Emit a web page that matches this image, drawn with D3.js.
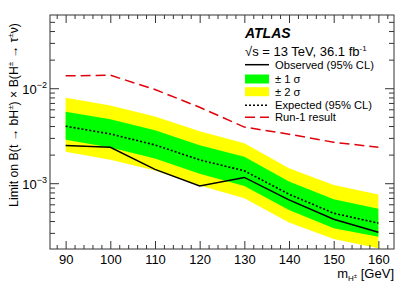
<!DOCTYPE html>
<html>
<head>
<meta charset="utf-8">
<script src="https://cdnjs.cloudflare.com/ajax/libs/d3/7.8.5/d3.min.js"></script>
<style>
  body { margin: 0; background: #fff; }
  svg { font-family: "Liberation Sans", Arial, sans-serif; }
</style>
</head>
<body>
<svg width="415" height="298"></svg>
<script>
var width = 415;
var height = 298;
var plotLeft = 50, plotRight = 394, plotTop = 15, plotBottom = 249;

// Charged Higgs masses [GeV]
var masses = [90, 100, 110, 120, 130, 140, 150, 160];
// Limits
var observed = [0.00249, 0.00239, 0.00140, 0.000937, 0.00115, 0.000667, 0.000418, 0.000305];
var expected = [0.00398, 0.00330, 0.00253, 0.00176, 0.00135, 0.000766, 0.000483, 0.000380];
var plus1 = [0.00567, 0.00471, 0.00360, 0.00251, 0.00190, 0.00104, 0.000679, 0.000540];
var minus1 = [0.00286, 0.00237, 0.00182, 0.00126, 0.000937, 0.000523, 0.000336, 0.000274];
var plus2 = [0.00796, 0.00659, 0.00505, 0.00352, 0.00264, 0.00144, 0.000960, 0.000759];
var minus2 = [0.00214, 0.00177, 0.00136, 0.000946, 0.000695, 0.000385, 0.000258, 0.000207];
var run1 = [0.0135, 0.0137, 0.0097, 0.0063, 0.0039, 0.00328, 0.0027, 0.00239];

var xMajor = [90, 100, 110, 120, 130, 140, 150, 160];

var svg = d3.select("svg");

var xScale = d3.scaleLinear()
               .domain([86.5, 163.5])
               .range([plotLeft, plotRight]);

var yScale = d3.scaleLog()
               .domain([2.03e-4, 0.059])
               .range([plotBottom, plotTop]);

svg.append("clipPath")
    .attr("id", "plot-clip")
  .append("rect")
    .attr("x", plotLeft)
    .attr("y", plotTop)
    .attr("width", plotRight - plotLeft)
    .attr("height", plotBottom - plotTop);

var plot = svg.append("g").attr("clip-path", "url(#plot-clip)");

// Bands
var band = (hi, lo) => d3.area()
    .x((d, i) => xScale(masses[i]))
    .y0((d, i) => yScale(lo[i]))
    .y1((d, i) => yScale(hi[i]));

plot.append("path")
    .datum(masses)
    .attr("d", band(plus2, minus2))
    .attr("fill", "#ffff00");

plot.append("path")
    .datum(masses)
    .attr("d", band(plus1, minus1))
    .attr("fill", "#00ff00");

var line = d3.line()
    .x(d => xScale(d[0]))
    .y(d => yScale(d[1]));

plot.append("path")
    .datum(d3.zip(masses, expected))
    .attr("d", line)
    .attr("fill", "none")
    .attr("stroke", "#000")
    .attr("stroke-width", 1.6)
    .attr("stroke-dasharray", "2,2");

plot.append("path")
    .datum(d3.zip(masses, observed))
    .attr("d", line)
    .attr("fill", "none")
    .attr("stroke", "#000")
    .attr("stroke-width", 1.5);

plot.append("path")
    .datum(d3.zip(masses, run1))
    .attr("d", line)
    .attr("fill", "none")
    .attr("stroke", "#e0000a")
    .attr("stroke-width", 1.5)
    .attr("stroke-dasharray", "10,5");

// Frame
svg.append("rect")
    .attr("x", plotLeft)
    .attr("y", plotTop)
    .attr("width", plotRight - plotLeft)
    .attr("height", plotBottom - plotTop)
    .attr("fill", "none")
    .attr("stroke", "#333")
    .attr("stroke-width", 1);

// X ticks (inside, bottom and top)
var xMinor = d3.range(88, 163, 2).filter(v => v % 10 !== 0);

function tickAxis(axisFn, scale, values, size) {
  return axisFn(scale).tickValues(values).tickSizeInner(size).tickSizeOuter(0).tickFormat("");
}

var xb = svg.append("g").attr("transform", "translate(0," + plotBottom + ")");
xb.call(d3.axisBottom(xScale).tickValues(xMajor).tickSizeInner(-8).tickSizeOuter(0).tickPadding(6).tickFormat(d3.format("d")));
svg.append("g").attr("transform", "translate(0," + plotBottom + ")")
    .call(tickAxis(d3.axisBottom, xScale, xMinor, -4));
svg.append("g").attr("transform", "translate(0," + plotTop + ")")
    .call(tickAxis(d3.axisTop, xScale, xMajor, -8));
svg.append("g").attr("transform", "translate(0," + plotTop + ")")
    .call(tickAxis(d3.axisTop, xScale, xMinor, -4));

// Y ticks (inside, left and right)
var yAll = yScale.ticks();
var yMajor = yAll.filter(v => Math.abs(Math.log10(v) - Math.round(Math.log10(v))) < 1e-6);
var yMinor = yAll.filter(v => yMajor.indexOf(v) < 0);

svg.append("g").attr("transform", "translate(" + plotLeft + ",0)")
    .call(tickAxis(d3.axisLeft, yScale, yMajor, -9));
svg.append("g").attr("transform", "translate(" + plotLeft + ",0)")
    .call(tickAxis(d3.axisLeft, yScale, yMinor, -5));
svg.append("g").attr("transform", "translate(" + plotRight + ",0)")
    .call(tickAxis(d3.axisRight, yScale, yMajor, -9));
svg.append("g").attr("transform", "translate(" + plotRight + ",0)")
    .call(tickAxis(d3.axisRight, yScale, yMinor, -5));

svg.selectAll(".domain").remove();
svg.selectAll(".tick line").attr("stroke", "#333");
xb.selectAll("text")
    .attr("font-size", "13px")
    .attr("font-family", "Liberation Sans, Arial, sans-serif")
    .attr("fill", "#000");

// Y tick labels as 10^n
yMajor.forEach(function(v) {
  var t = svg.append("text")
      .attr("x", 47)
      .attr("y", yScale(v) + 6)
      .attr("text-anchor", "end")
      .attr("font-size", "13px");
  t.append("tspan").text("10");
  t.append("tspan")
      .attr("dy", -6)
      .attr("font-size", "9px")
      .text("\u2212" + Math.round(-Math.log10(v)));
});

// Axis titles
var xt = svg.append("text")
    .attr("x", plotRight)
    .attr("y", 278)
    .attr("text-anchor", "end")
    .attr("font-size", "13px");
xt.append("tspan").text("m");
xt.append("tspan").attr("dy", 3).attr("font-size", "8px").text("H");
xt.append("tspan").attr("dy", -3).attr("font-size", "6px").text("\u00b1");
xt.append("tspan").attr("dy", 0).text(" [GeV]");

var yt = svg.append("text")
    .attr("transform", "rotate(-90)")
    .attr("x", -115)
    .attr("y", 18)
    .attr("text-anchor", "middle")
    .attr("font-size", "12.3px");
yt.append("tspan").text("Limit on B(t \u2192 bH");
yt.append("tspan").attr("dy", -5).attr("font-size", "8px").text("\u00b1");
yt.append("tspan").attr("dy", 5).text(") \u00d7 B(H");
yt.append("tspan").attr("dy", -5).attr("font-size", "8px").text("\u00b1");
yt.append("tspan").attr("dy", 5).text(" \u2192 \u03c4");
yt.append("tspan").attr("dy", -5).attr("font-size", "8px").text("\u00b1");
yt.append("tspan").attr("dy", 5).text("\u03bd)");

// ATLAS label
svg.append("text")
    .attr("x", 245)
    .attr("y", 38)
    .attr("font-size", "14px")
    .attr("font-weight", "bold")
    .attr("font-style", "italic")
    .text("ATLAS");

var en = svg.append("text")
    .attr("x", 245)
    .attr("y", 56)
    .attr("font-size", "13px");
en.append("tspan").text("\u221as = 13 TeV, 36.1 fb");
en.append("tspan").attr("dy", -5).attr("font-size", "8px").text("-1");

// Legend
var legX = 245, legW = 24, legTextX = 275;
var legend = [
  {label: "Observed (95% CL)", y: 64.7, kind: "line", color: "#000", dash: null},
  {label: "\u00b1 1 \u03c3", y: 79, kind: "box", color: "#00ff00"},
  {label: "\u00b1 2 \u03c3", y: 91.7, kind: "box", color: "#ffff00"},
  {label: "Expected (95% CL)", y: 105.3, kind: "line", color: "#000", dash: "2,2"},
  {label: "Run-1 result", y: 117.3, kind: "line", color: "#e0000a", dash: "10,5"}
];

legend.forEach(function(d) {
  if (d.kind === "box") {
    svg.append("rect")
        .attr("x", legX)
        .attr("y", d.y - 4.5)
        .attr("width", legW)
        .attr("height", 9)
        .attr("fill", d.color);
  } else {
    svg.append("line")
        .attr("x1", legX)
        .attr("x2", legX + legW)
        .attr("y1", d.y)
        .attr("y2", d.y)
        .attr("stroke", d.color)
        .attr("stroke-width", 1.5)
        .attr("stroke-dasharray", d.dash);
  }
  svg.append("text")
      .attr("x", legTextX)
      .attr("y", d.y + 4)
      .attr("font-size", "11.2px")
      .text(d.label);
});
</script>
</body>
</html>
